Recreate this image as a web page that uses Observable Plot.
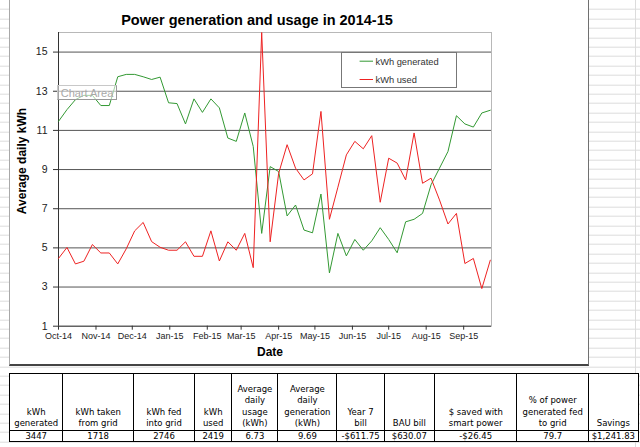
<!DOCTYPE html>
<html>
<head>
<meta charset="utf-8">
<script src="https://cdn.jsdelivr.net/npm/d3@7"></script>
<script src="https://cdn.jsdelivr.net/npm/@observablehq/plot@0.6"></script>
<style>
  html, body { margin: 0; padding: 0; background: #fff; }
  #page {
    position: relative; width: 640px; height: 447px; overflow: hidden;
    background-color: #fff;
    background-image: repeating-linear-gradient(to bottom, transparent 0px, transparent 8.4px, #dcdcdc 8.4px, #dcdcdc 9.4px);
    background-position: 0 0.7px;
    font-family: "Liberation Sans", Arial, sans-serif;
  }
  #vline { position: absolute; left: 635px; top: 0; width: 1px; height: 447px; background: #dcdcdc; }
  #chartArea {
    position: absolute; left: 9px; top: -1px; width: 580px; height: 367px; box-sizing: border-box;
    background: #fff; border-left: 1px solid #a8a8a8; border-right: 1px solid #707070; border-bottom: 2px solid #444;
  }
  #plotHolder { position: absolute; left: 9px; top: 0px; }
  .abs { position: absolute; white-space: nowrap; line-height: 1; }
  #title { left: 0; width: 514px; top: 12.7px; text-align: center; font-weight: bold; font-size: 14.5px; color: #000; }
  #xtitle { left: 220px; width: 100px; top: 345.8px; text-align: center; font-weight: bold; font-size: 12px; color: #000; }
  #ytitle { left: 21.7px; top: 160.5px; transform: translate(-50%, -50%) rotate(-90deg); font-weight: bold; font-size: 12px; color: #000; }
  #legend { position: absolute; left: 340.7px; top: 52.3px; width: 116px; height: 36px; box-sizing: border-box; border: 1px solid #777; background: #fff; }
  #legend svg { position: absolute; left: 0; top: 0; }
  #chartTip { position: absolute; left: 56.7px; top: 85px; width: 60px; height: 15px; box-sizing: border-box; border: 1px solid #c8c8c8; border-right-color: #999; border-bottom-color: #999; background: rgba(255,255,255,0.55); }
  #chartTip span { position: absolute; left: 3px; top: 2px; font-size: 11px; color: #a8a8a8; line-height: 1; }
  #table { position: absolute; left: 9px; top: 373.3px; }
  .cell { position: absolute; box-sizing: border-box; border: 1px solid #000; background: #fff;
          font-family: "DejaVu Sans", sans-serif; font-size: 8.5px; color: #000; text-align: center; }
  .hcell { display: flex; flex-direction: column; justify-content: flex-end; line-height: 11.5px; padding-bottom: 0px; }
  .dcell { line-height: 10px; }
</style>
</head>
<body>
<div id="page">
  <div id="vline"></div>
  <div id="chartArea"></div>
  <div id="plotHolder"></div>
  <div id="title" class="abs">Power generation and usage in 2014-15</div>
  <div id="xtitle" class="abs">Date</div>
  <div id="ytitle" class="abs">Average daily kWh</div>
  <div id="legend"></div>
  <div id="chartTip"><span>Chart Area</span></div>
  <div id="table"></div>
</div>
<script>
// ---- data ----
const dates = [
  "2014-10-01","2014-10-08","2014-10-15","2014-10-22","2014-10-29",
  "2014-11-05","2014-11-12","2014-11-19","2014-11-26",
  "2014-12-03","2014-12-10","2014-12-17","2014-12-24","2014-12-31",
  "2015-01-07","2015-01-14","2015-01-21","2015-01-28",
  "2015-02-04","2015-02-11","2015-02-18","2015-02-25",
  "2015-03-04","2015-03-11","2015-03-18","2015-03-25",
  "2015-04-01","2015-04-08","2015-04-15","2015-04-22","2015-04-29",
  "2015-05-06","2015-05-13","2015-05-20","2015-05-27",
  "2015-06-03","2015-06-10","2015-06-17","2015-06-24",
  "2015-07-01","2015-07-08","2015-07-15","2015-07-22","2015-07-29",
  "2015-08-05","2015-08-12","2015-08-19","2015-08-26",
  "2015-09-02","2015-09-09","2015-09-16","2015-09-23"
];
const kwhGenerated = [
  11.46, 12.06, 12.57, 12.79, 12.79, 12.27, 12.27, 13.74, 13.86, 13.86,
  13.74, 13.60, 13.72, 12.41, 12.37, 11.33, 12.61, 11.92, 12.61, 12.15,
  10.61, 10.44, 11.89, 10.18, 5.74, 9.15, 8.90, 6.63, 7.19, 5.91,
  5.77, 7.75, 3.72, 5.74, 4.59, 5.43, 4.88, 5.36, 6.03, 5.43,
  4.75, 6.33, 6.46, 6.76, 8.22, 9.07, 9.92, 11.75, 11.33, 11.17,
  11.89, 12.03
];
const kwhUsed = [
  4.46, 5.02, 4.18, 4.32, 5.17, 4.74, 4.74, 4.18, 4.95, 5.87,
  6.30, 5.32, 5.03, 4.88, 4.88, 5.31, 4.57, 4.57, 5.87, 4.33,
  5.31, 4.88, 5.74, 3.99, 16.0, 5.31, 8.80, 10.27, 9.07, 8.47,
  8.78, 11.97, 6.46, 8.10, 9.75, 10.44, 10.06, 10.73, 7.33, 9.58,
  9.33, 8.47, 10.87, 8.30, 8.56, 7.45, 6.22, 6.76, 4.20, 4.46,
  2.92, 4.37
];
const seriesNames = ["kWh generated", "kWh used"];
const seriesColors = ["#339933", "#ee2222"];
const yTicks = [1, 3, 5, 7, 9, 11, 13, 15];
const monthTicks = ["2014-10-01","2014-11-01","2014-12-01","2015-01-01","2015-02-01","2015-03-01",
                    "2015-04-01","2015-05-01","2015-06-01","2015-07-01","2015-08-01","2015-09-01"];
const monthTickLabels = ["Oct-14","Nov-14","Dec-14","Jan-15","Feb-15","Mar-15",
                         "Apr-15","May-15","Jun-15","Jul-15","Aug-15","Sep-15"];
const xDomain = ["2014-10-01", "2015-09-24"];
const yDomain = [1, 16];

const tableHeaders = [
  ["kWh", "generated"], ["kWh taken", "from grid"], ["kWh fed", "into grid"], ["kWh", "used"],
  ["Average", "daily", "usage", "(kWh)"], ["Average", "daily", "generation", "(kWh)"],
  ["Year 7", "bill"], ["BAU bill"], ["$ saved with", "smart power"],
  ["% of power", "generated fed", "to grid"], ["Savings"]
];
const tableValues = ["3447", "1718", "2746", "2419", "6.73", "9.69", "-$611.75", "$630.07", "-$26.45", "79.7", "$1,241.83"];
const tableColWidths = [53.4, 70.6, 61, 37.4, 46, 59, 47.3, 50.3, 82.4, 71.6, 49.7];

// ---- build ----
const rows = dates.map((d, i) => ({date: new Date(d), generated: kwhGenerated[i], used: kwhUsed[i]}));
const tickDates = monthTicks.map(d => new Date(d));
const tickLabelOf = new Map(tickDates.map((d, i) => [+d, monthTickLabels[i]]));

const chart = Plot.plot({
  width: 579,
  height: 365,
  marginLeft: 49,
  marginRight: 97,
  marginTop: 32,
  marginBottom: 39.3,
  style: {background: "transparent", color: "#222", fontFamily: "'Liberation Sans', Arial, sans-serif"},
  x: {type: "utc", domain: xDomain.map(d => new Date(d)), label: null},
  y: {domain: yDomain, label: null},
  marks: [
    Plot.gridY(yTicks.slice(1), {stroke: "#555", strokeOpacity: 1, strokeWidth: 1}),
    Plot.frame({stroke: "#b8b8b8"}),
    Plot.ruleX([new Date(xDomain[0])], {stroke: "#333"}),
    Plot.ruleY([yDomain[0]], {stroke: "#333"}),
    Plot.axisY({ticks: yTicks, tickSize: 5, tickPadding: 6, fontSize: 10.5, label: null, stroke: "#333"}),
    Plot.axisX({ticks: tickDates, tickFormat: d => tickLabelOf.get(+d), tickSize: 4, tickPadding: 2, fontSize: 9, label: null, stroke: "#333"}),
    Plot.line(rows, {x: "date", y: "generated", stroke: seriesColors[0], strokeWidth: 1}),
    Plot.line(rows, {x: "date", y: "used", stroke: seriesColors[1], strokeWidth: 1})
  ]
});
document.getElementById("plotHolder").appendChild(chart);

// legend (inline svg)
const NS = "http://www.w3.org/2000/svg";
const lsvg = document.createElementNS(NS, "svg");
lsvg.setAttribute("width", "114");
lsvg.setAttribute("height", "34");
seriesNames.forEach((name, i) => {
  const cy = i === 0 ? 8.2 : 26.5;
  const ln = document.createElementNS(NS, "line");
  ln.setAttribute("x1", "17.6"); ln.setAttribute("x2", "31");
  ln.setAttribute("y1", cy); ln.setAttribute("y2", cy);
  ln.setAttribute("stroke", seriesColors[i]);
  ln.setAttribute("stroke-width", "1");
  lsvg.appendChild(ln);
  const tx = document.createElementNS(NS, "text");
  tx.setAttribute("x", "33.5");
  tx.setAttribute("y", cy + 3.3);
  tx.setAttribute("font-size", "9.3");
  tx.setAttribute("font-family", "'Liberation Sans', Arial, sans-serif");
  tx.setAttribute("fill", "#333");
  tx.textContent = name;
  lsvg.appendChild(tx);
});
document.getElementById("legend").appendChild(lsvg);

// table
const table = document.getElementById("table");
let x = 0;
const headerH = 57.7, dataH = 11.7;
tableColWidths.forEach((w, i) => {
  const h = document.createElement("div");
  h.className = "cell hcell";
  h.style.left = x + "px"; h.style.top = "0px";
  h.style.width = (w + 1) + "px"; h.style.height = headerH + "px";
  tableHeaders[i].forEach(t => { const s = document.createElement("div"); s.textContent = t; h.appendChild(s); });
  table.appendChild(h);
  const d = document.createElement("div");
  d.className = "cell dcell";
  d.style.left = x + "px"; d.style.top = (headerH - 1) + "px";
  d.style.width = (w + 1) + "px"; d.style.height = dataH + "px";
  d.textContent = tableValues[i];
  table.appendChild(d);
  x += w;
});
</script>
</body>
</html>
